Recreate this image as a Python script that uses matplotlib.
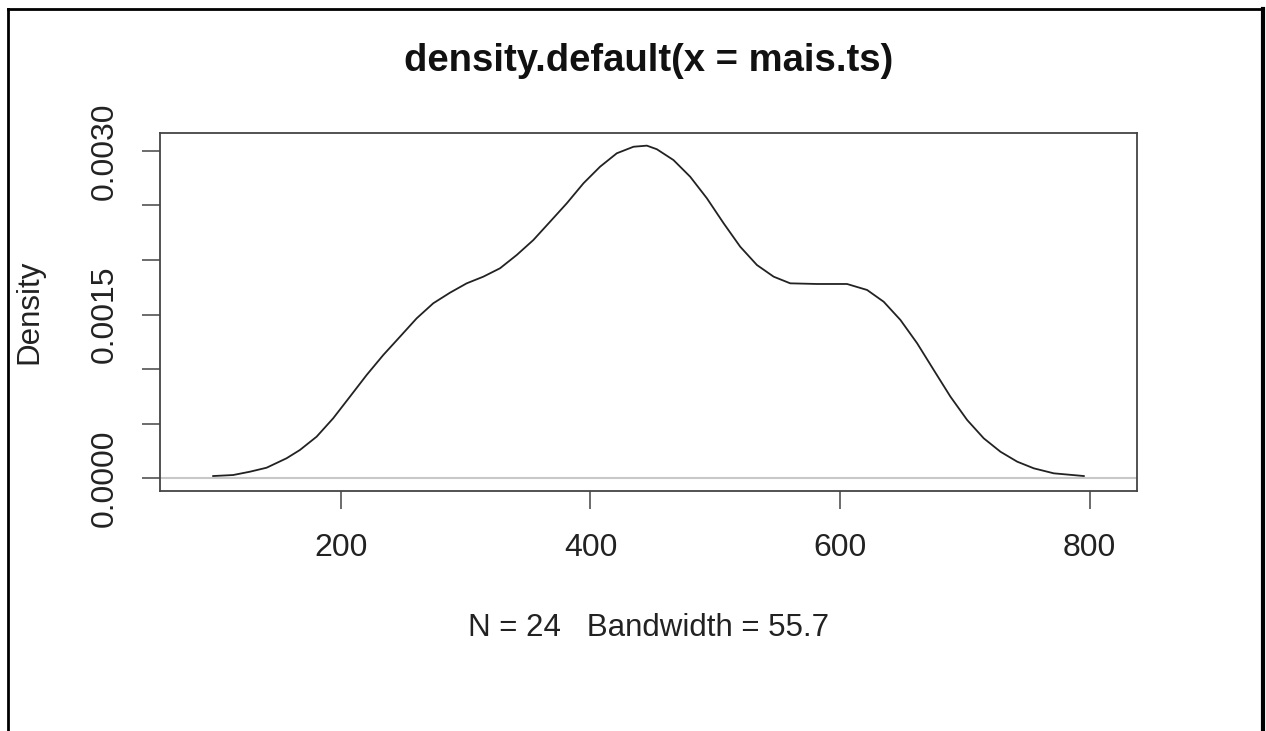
import matplotlib
matplotlib.use("Agg")
import matplotlib.pyplot as plt
from matplotlib.lines import Line2D

# density estimate of mais.ts
dens_x = [97.6, 113.6, 127.0, 140.4, 156.4, 167.1, 180.5, 193.8, 207.2, 220.6,
          233.9, 247.3, 260.7, 274.0, 287.4, 300.8, 314.1, 327.5, 340.9, 354.2,
          367.6, 381.0, 394.4, 407.7, 421.1, 434.5, 445.2, 453.2, 466.5, 479.9,
          493.3, 506.7, 520.0, 533.4, 546.8, 560.1, 581.6, 605.6, 621.7, 635.0,
          648.4, 661.8, 675.1, 688.5, 701.9, 715.2, 728.6, 742.0, 755.3, 771.3,
          795.4]
dens_y = [0.0000183, 0.0000275, 0.0000578, 0.0000945, 0.000181, 0.000257,
          0.000379, 0.000548, 0.000746, 0.000945, 0.001128, 0.001296,
          0.001465, 0.001603, 0.001700, 0.001786, 0.001847, 0.001924,
          0.002046, 0.002183, 0.002351, 0.002520, 0.002704, 0.002856,
          0.002979, 0.003039, 0.003049, 0.003016, 0.002917, 0.002764,
          0.002566, 0.002337, 0.002122, 0.001954, 0.001847, 0.001786,
          0.001780, 0.001780, 0.001725, 0.001617, 0.001450, 0.001236,
          0.000991, 0.000746, 0.000532, 0.000364, 0.000241, 0.000150,
          0.0000890, 0.0000431, 0.0000183]

x_ticks = [200, 400, 600, 800]
y_ticks = [0.0, 0.0005, 0.0010, 0.0015, 0.0020, 0.0025, 0.0030]
y_tick_labels = ["0.0000", "", "", "0.0015", "", "", "0.0030"]

title = "density.default(x = mais.ts)"
x_label = "N = 24   Bandwidth = 55.7"
y_label = "Density"

plt.rcParams["font.family"] = ["Liberation Sans", "DejaVu Sans"]

W, H = 1266, 731
fig = plt.figure(figsize=(W / 100, H / 100), dpi=100)

# axes box in pixels: left 160, right 1137, top 133, bottom 491
ax = fig.add_axes([160 / W, 1 - 491 / H, (1137 - 160) / W, (491 - 133) / H])

ax.axhline(0, color="#c8c8c8", lw=1.5, zorder=1)
ax.plot(dens_x, dens_y, color="#222222", lw=1.3, zorder=2,
        solid_joinstyle="round")

ax.set_xlim(55, 838)
ax.set_ylim(-0.000119, 0.003165)

ax.set_xticks(x_ticks)
ax.set_xticklabels([str(v) for v in x_ticks])
ax.set_yticks(y_ticks)
ax.set_yticklabels(y_tick_labels, rotation=90, va="center")

for s in ax.spines.values():
    s.set_color("#444444")
    s.set_linewidth(1.3)

ax.tick_params(axis="both", direction="out", length=13, width=1.1,
               color="#444444", labelsize=23, labelcolor="#222222")
ax.tick_params(axis="x", pad=17)
ax.tick_params(axis="y", pad=16)

# title is centred on the plot box, like R's main=
fig.text(648.5 / W, 1 - 61 / H, title, ha="center", va="center",
         fontsize=27.5, fontweight="bold", color="#111111")
fig.text(648.5 / W, 1 - 628 / H, x_label, ha="center", va="center",
         fontsize=22.5, color="#222222")
fig.text(29 / W, 1 - 312 / H, y_label, ha="center", va="center",
         rotation=90, fontsize=22.5, color="#222222")

# black frame around the screenshot (open at the bottom)
fig.add_artist(Line2D([8 / W, 8 / W], [0, 1 - 9 / H], transform=fig.transFigure,
                      color="black", lw=2))
fig.add_artist(Line2D([8 / W, 1262 / W], [1 - 9 / H, 1 - 9 / H],
                      transform=fig.transFigure, color="black", lw=2))
fig.add_artist(Line2D([1263 / W, 1263 / W], [0, 1 - 9 / H],
                      transform=fig.transFigure, color="black", lw=3))

fig.savefig("out.png", dpi=100)
